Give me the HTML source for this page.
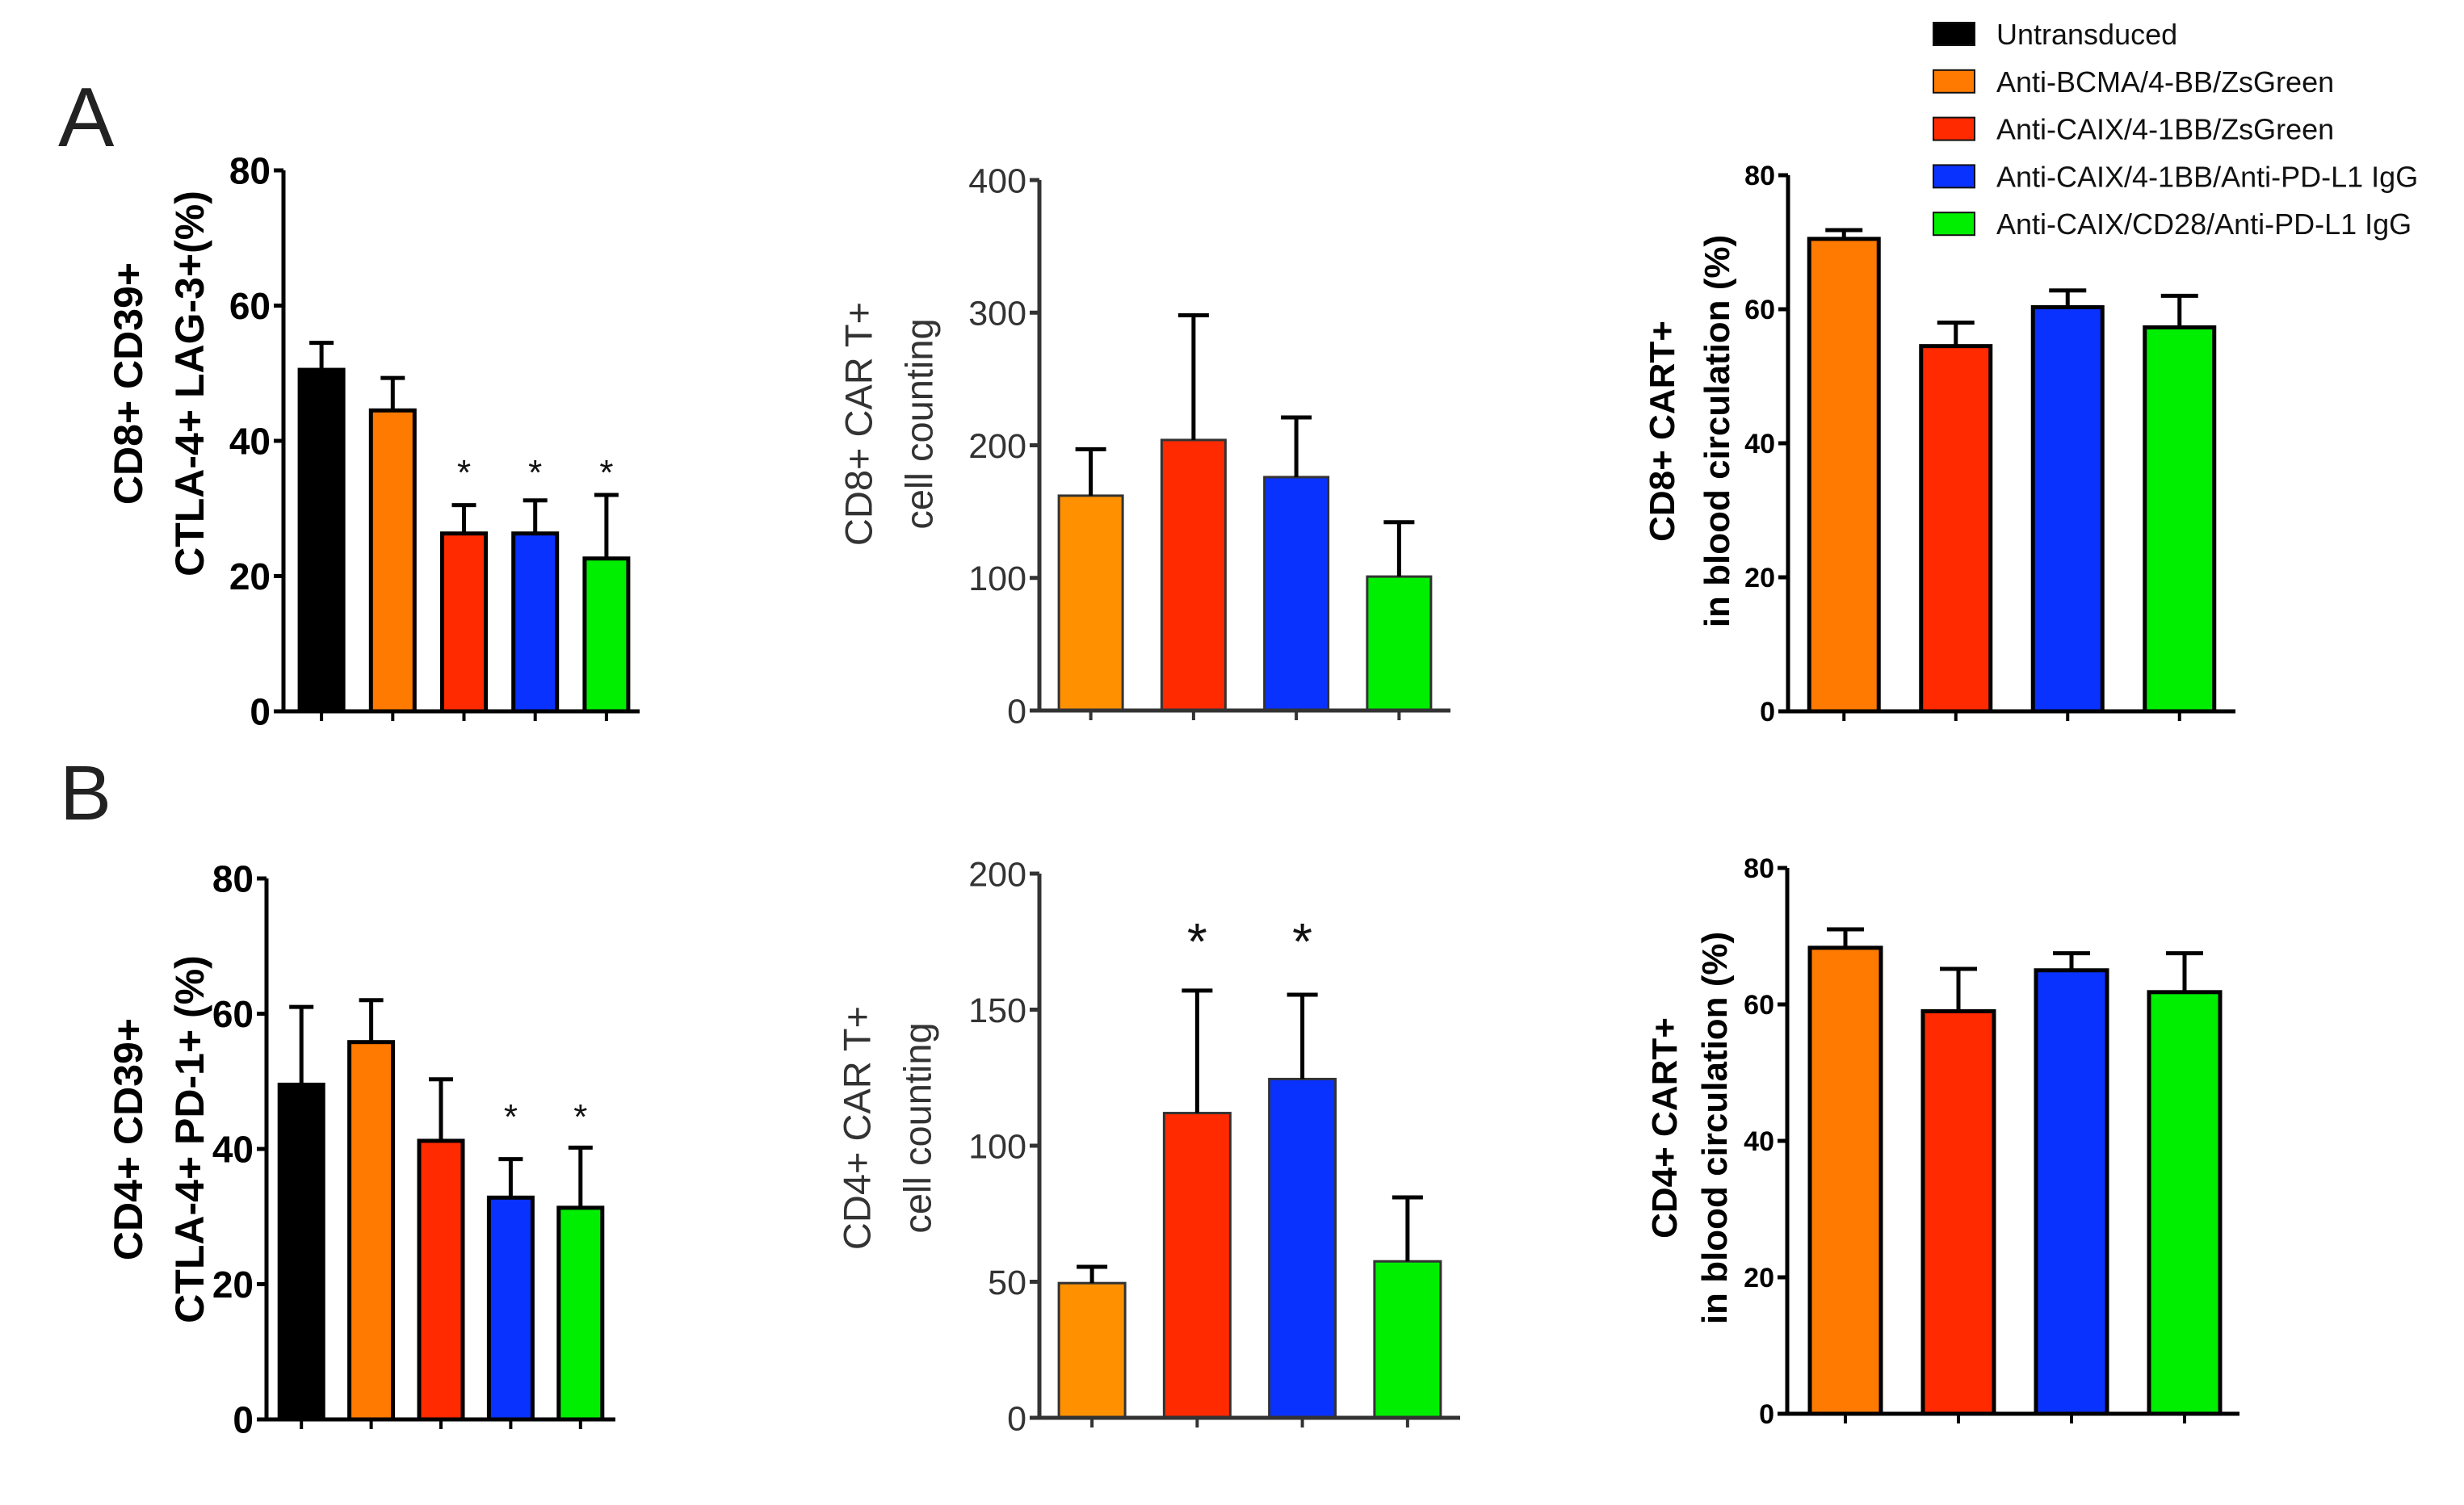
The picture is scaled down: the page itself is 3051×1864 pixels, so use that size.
<!DOCTYPE html>
<html><head><meta charset="utf-8"><style>
html,body{margin:0;padding:0;background:#fff;}
svg{display:block;}
</style></head><body>
<svg id="fig" width="3051" height="1864" viewBox="0 0 3051 1864" xmlns="http://www.w3.org/2000/svg" font-family="Liberation Sans, sans-serif">
<text x="72" y="181" font-size="104" fill="#222">A</text>
<text x="74" y="1015" font-size="96" fill="#222">B</text>
<g id="legend"></g>
</svg>
<script>
const groups = ["Untransduced","Anti-BCMA/4-BB/ZsGreen","Anti-CAIX/4-1BB/ZsGreen","Anti-CAIX/4-1BB/Anti-PD-L1 IgG","Anti-CAIX/CD28/Anti-PD-L1 IgG"];
const groupColors = ["#000000","#ff7a00","#ff2a00","#0a32ff","#00ee00"];
const a1Values = [50.5,44.5,26.3,26.3,22.6];
const a1Errors = [54.5,49.3,30.5,31.2,32.0];
const a1Stars = [false,false,true,true,true];
const a2Values = [162,204,176,101];
const a2Errors = [197,298,221,142];
const a3Values = [70.5,54.5,60.3,57.3];
const a3Errors = [71.8,58.0,62.8,62.0];
const b1Values = [49.5,55.8,41.2,32.8,31.3];
const b1Errors = [61.0,62.0,50.3,38.5,40.2];
const b1Stars = [false,false,false,true,true];
const b2Values = [49.5,112,124.5,57.5];
const b2Errors = [55.5,157,155.5,81];
const b2Stars = [false,true,true,false];
const b3Values = [68.3,59.0,65.0,61.8];
const b3Errors = [71.0,65.2,67.5,67.5];
const ticks80 = [0,20,40,60,80];
const ticks400 = [0,100,200,300,400];
const ticks200 = [0,50,100,150,200];

const NS="http://www.w3.org/2000/svg";
const svg=document.getElementById('fig');
function mk(tag,attrs,parent){const e=document.createElementNS(NS,tag);for(const k in attrs)e.setAttribute(k,attrs[k]);(parent||svg).appendChild(e);return e;}

function panel(o){
  const g=mk('g',{});
  
  
  const maxV=o.ticks[o.ticks.length-1];
  const y=v=>o.y0-(v/maxV)*(o.y0-o.yTop);
  const n=o.values.length;
  const pitch=(o.xEnd-o.x0)/n;
  const xc=i=>o.x0+pitch*(i+0.5)+o.shift;
  o.values.forEach((v,i)=>{
    const ci=o.colorOffset+i;
    const bw=o.barW;
    const r=mk('rect',{x:xc(i)-bw/2,y:y(v),width:bw,height:o.y0-y(v),fill:(o.colors?o.colors[i]:groupColors[ci]),stroke:o.stroke,'stroke-width':o.sw},g);
    
    
    const e=mk('path',{d:`M${xc(i)} ${y(v)} V${y(o.errors[i])} M${xc(i)-o.cap/2} ${y(o.errors[i])} H${xc(i)+o.cap/2}`,stroke:'#000','stroke-width':o.ew,fill:'none'},g);
    
    
    const t=mk('line',{x1:xc(i),x2:xc(i),y1:o.y0,y2:o.y0+12,stroke:o.axisColor,'stroke-width':4},g);
    
    
    if(o.stars&&o.stars[i]){
      const s=mk('text',{x:xc(i),y:o.starY,'text-anchor':'middle','font-size':o.starSize,fill:'#111'},g);
      s.textContent='*';
      
      
    }
  });
  const ax=mk('path',{d:`M${o.x0} ${o.yTop} V${o.y0} H${o.xEnd}`,stroke:o.axisColor,'stroke-width':5,fill:'none'},g);
  
  
  o.ticks.forEach(tv=>{
    const tl=mk('line',{x1:o.x0-12,x2:o.x0,y1:y(tv),y2:y(tv),stroke:o.axisColor,'stroke-width':5},g);
    
    
    const tx=mk('text',{x:o.x0-16,y:y(tv)+o.tickSize*0.36,'text-anchor':'end','font-size':o.tickSize,'font-weight':o.tickWeight,fill:o.tickColor},g);
    tx.textContent=tv;
    
    
  });
  const tg=mk('text',{transform:`translate(${o.tx},${o.ty}) rotate(-90)`,'text-anchor':'middle','font-size':o.titleSize,'font-weight':o.titleWeight,fill:o.tickColor},g);
  
  
  o.title.forEach((line,k)=>{
    const ts=mk('tspan',{x:0,y:(k-(o.title.length-1)/2)*o.lineGap+o.titleSize*0.36},tg);
    ts.textContent=line;
  });
}

panel({name:'panel-a1',values:a1Values,errors:a1Errors,stars:a1Stars,ticks:ticks80,x0:351,xEnd:792,yTop:211,y0:881,shift:3,barW:54,colorOffset:0,stroke:'#000',sw:5,ew:5,cap:30,axisColor:'#000',tickSize:46,tickWeight:'bold',tickColor:'#000',starY:600,starSize:44,title:['CD8+ CD39+','CTLA-4+ LAG-3+(%)'],tx:196,ty:475,lineGap:76,titleSize:50,titleWeight:'bold'});
panel({name:'panel-a2',values:a2Values,errors:a2Errors,ticks:ticks400,x0:1287,xEnd:1796,yTop:223,y0:880,shift:0,barW:79,colorOffset:1,colors:['#ff9100','#ff2a00','#0a32ff','#00ee00'],stroke:'#333',sw:3,ew:5,cap:38,axisColor:'#333',tickSize:43,tickWeight:'normal',tickColor:'#333',title:['CD8+ CAR T+','cell counting'],tx:1100,ty:525,lineGap:75,titleSize:47,titleWeight:'normal'});
panel({name:'panel-a3',values:a3Values,errors:a3Errors,ticks:ticks80,x0:2214,xEnd:2768,yTop:217,y0:881,shift:0,barW:86,colorOffset:1,stroke:'#000',sw:5,ew:5,cap:46,axisColor:'#000',tickSize:34,tickWeight:'bold',tickColor:'#000',title:['CD8+ CART+','in blood circulation (%)'],tx:2091,ty:534,lineGap:68,titleSize:44,titleWeight:'bold'});
panel({name:'panel-b1',values:b1Values,errors:b1Errors,stars:b1Stars,ticks:ticks80,x0:330,xEnd:762,yTop:1088,y0:1758,shift:0,barW:54,colorOffset:0,stroke:'#000',sw:5,ew:5,cap:30,axisColor:'#000',tickSize:46,tickWeight:'bold',tickColor:'#000',starY:1398,starSize:44,title:['CD4+ CD39+','CTLA-4+ PD-1+ (%)'],tx:196,ty:1411,lineGap:76,titleSize:50,titleWeight:'bold'});
panel({name:'panel-b2',values:b2Values,errors:b2Errors,stars:b2Stars,ticks:ticks200,x0:1287,xEnd:1808,yTop:1082,y0:1756,shift:0,barW:82,colorOffset:1,colors:['#ff9100','#ff2a00','#0a32ff','#00ee00'],stroke:'#333',sw:3,ew:5,cap:38,axisColor:'#333',tickSize:43,tickWeight:'normal',tickColor:'#333',starY:1188,starSize:64,title:['CD4+ CAR T+','cell counting'],tx:1098,ty:1397,lineGap:75,titleSize:47,titleWeight:'normal'});
panel({name:'panel-b3',values:b3Values,errors:b3Errors,ticks:ticks80,x0:2213,xEnd:2773,yTop:1075,y0:1751,shift:2,barW:88,colorOffset:1,stroke:'#000',sw:5,ew:5,cap:46,axisColor:'#000',tickSize:34,tickWeight:'bold',tickColor:'#000',title:['CD4+ CART+','in blood circulation (%)'],tx:2091,ty:1397,lineGap:62,titleSize:44,titleWeight:'bold'});

const lg=document.getElementById('legend');
groups.forEach((name,i)=>{
  const cy=42+i*58.8;
  const r=mk('rect',{x:2394,y:cy-14,width:51,height:28,fill:groupColors[i],stroke:'#111','stroke-width':2},lg);
  
  
  const t=mk('text',{x:2472,y:cy+13,'font-size':36,fill:'#111'},lg);
  t.textContent=name;
  
  
});
</script>
</body></html>
